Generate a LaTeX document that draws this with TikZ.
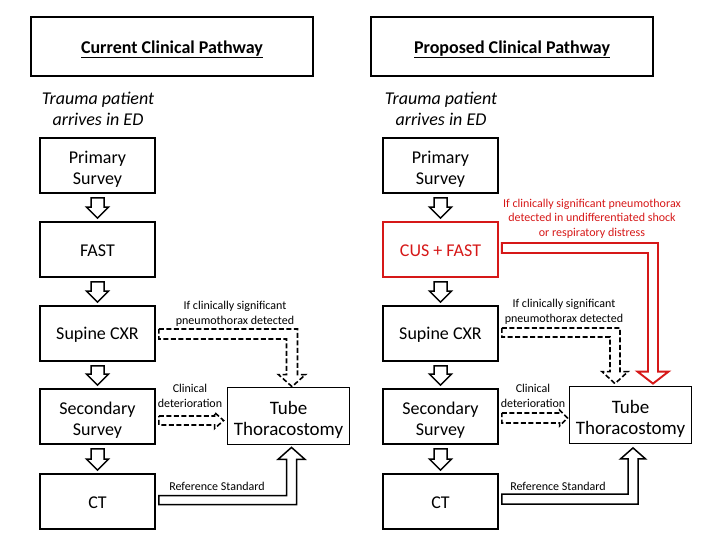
\documentclass[tikz,border=0pt]{standalone}
\usepackage{fontspec}
\setmainfont{Carlito}
\usetikzlibrary{calc}
\definecolor{cred}{RGB}{214,24,24}
\begin{document}
\begin{tikzpicture}[x=1pt,y=-1pt,
  box/.style={draw, line width=1.8pt, minimum width=115pt, minimum height=55pt, inner sep=0pt},
  boxtxt/.style={align=center, inner sep=0pt, font=\fontsize{18}{21}\selectfont},
  titlebox/.style={draw, line width=1.8pt, minimum width=282pt, minimum height=59pt, inner sep=0pt},
  titletxt/.style={inner sep=0pt, font=\fontsize{18}{21}\selectfont\bfseries},
  tubebox/.style={box, minimum width=122pt, minimum height=57pt},
  tubetxt/.style={boxtxt, font=\fontsize{19}{21}\selectfont},
  ital/.style={align=center, inner sep=0pt, font=\fontsize{18}{20.5}\selectfont\itshape},
  lbl/.style={align=center, inner sep=0pt, font=\fontsize{12}{15}\selectfont},
  redlbl/.style={lbl, text=cred, font=\fontsize{12}{14.5}\selectfont},
  blk/.style={draw, line width=1.5pt, fill=white, line join=miter},
  dsh/.style={blk, line width=1.6pt, dash pattern=on 5pt off 2.5pt},
  redarrow/.style={blk, draw=cred, line width=1.9pt}]
\useasboundingbox (0,0) rectangle (720,540);

% box node + its text node, text shifted down by #4
\newcommand{\bx}[6]{%
  \node[#1,#6] (#2) at (#3) {};
  \node[#4,#6,draw=none] (#2t) at ($(#2)+(0,#5)$) {\strut#2x};}
\newcommand{\bxx}[6]{%
  \node[#1,#6] (#2) at (#3) {};
  \node[#4,#6,draw=none] (#2t) at ($(#2)+(0,#5)$) {#2x};}

% ---------- Left column ----------
\node[titlebox] (t1) at (172,46.5) {};
\node[titletxt] (t1t) at (172,49.5) {\underline{Current Clinical Pathway}};
\node[ital] (a1) at (98,109) {Trauma patient\\arrives in ED};
\node[box] (p1) at (97.5,165.5) {};
\node[boxtxt] (p1t) at (97.5,169.5) {Primary\\Survey};
\node[box] (f1) at (97.5,249.5) {};
\node[boxtxt] (f1t) at (97.5,251) {FAST};
\node[box] (c1) at (97.5,333.5) {};
\node[boxtxt] (c1t) at (97.5,335) {Supine CXR};
\node[box] (s1) at (97.5,416.5) {};
\node[boxtxt] (s1t) at (97.5,420.5) {Secondary\\Survey};
\node[box] (ct1) at (97.5,501.5) {};
\node[boxtxt] (ct1t) at (97.5,503) {CT};
\node[tubebox] (tb1) at (288.5,416) {};
\node[tubetxt] (tb1t) at (288.5,420) {Tube\\Thoracostomy};

% ---------- Right column ----------
\node[titlebox] (t2) at (512,46.5) {};
\node[titletxt] (t2t) at (512,49.5) {\underline{Proposed Clinical Pathway}};
\node[ital] (a2) at (441,109) {Trauma patient\\arrives in ED};
\node[box] (p2) at (440.5,165.5) {};
\node[boxtxt] (p2t) at (440.5,169.5) {Primary\\Survey};
\node[box, draw=cred] (f2) at (440.5,249.5) {};
\node[boxtxt, text=cred] (f2t) at (440.5,251) {CUS + FAST};
\node[box] (c2) at (440.5,333.5) {};
\node[boxtxt] (c2t) at (440.5,335) {Supine CXR};
\node[box] (s2) at (440.5,416.5) {};
\node[boxtxt] (s2t) at (440.5,420.5) {Secondary\\Survey};
\node[box] (ct2) at (440.5,501.5) {};
\node[boxtxt] (ct2t) at (440.5,503) {CT};
\node[tubebox] (tb2) at (630.5,415) {};
\node[tubetxt] (tb2t) at (630.5,419) {Tube\\Thoracostomy};

% ---------- down block arrows ----------
\newcommand{\dnarrow}[2]{%
  \draw[blk] let \p1=(#1.south), \p2=(#2.north) in
    (\x1-6.5pt,\y1-4pt) -- (\x1+6.5pt,\y1-4pt) -- (\x1+6.5pt,\y2+14pt) -- (\x1+11pt,\y2+14pt)
    -- (\x1,\y2+3pt) -- (\x1-11pt,\y2+14pt) -- (\x1-6.5pt,\y2+14pt) -- cycle;}
\dnarrow{p1}{f1}
\dnarrow{f1}{c1}
\dnarrow{c1}{s1}
\dnarrow{s1}{ct1}
\dnarrow{p2}{f2}
\dnarrow{f2}{c2}
\dnarrow{c2}{s2}
\dnarrow{s2}{ct2}

% ---------- left connectors ----------
\draw[dsh] let \p1=(c1.east), \p2=(tb1.north) in
  (\x1+3pt,\y1+4.5pt) -- (\x2+9pt,\y1+4.5pt) -- (\x2+9pt,\y2+12pt) -- (\x2+17pt,\y2+12pt)
  -- (\x2+3.5pt,\y2) -- (\x2-10pt,\y2+12pt) -- (\x2-2pt,\y2+12pt) -- (\x2-2pt,\y1-5.5pt)
  -- (\x1+3pt,\y1-5.5pt) -- cycle;
\node[lbl] (l1) at (235,313.5) {If clinically significant\\pneumothorax detected};

\draw[dsh] let \p1=(s1.east), \p2=(tb1.west) in
  (\x1+3pt,\y1+0.5pt) -- (\x2-12pt,\y1+0.5pt) -- (\x2-12pt,\y1+4pt) -- (\x2-3pt,\y1-4pt)
  -- (\x2-12pt,\y1-12pt) -- (\x2-12pt,\y1-8.5pt) -- (\x1+3pt,\y1-8.5pt) -- cycle;
\node[lbl] (l2) at (190,396) {Clinical\\deterioration};

\draw[blk] let \p1=(ct1.east), \p2=(tb1.south) in
  (\x1+3pt,\y1-3pt) -- (\x2+8pt,\y1-3pt) -- (\x2+8pt,\y2-14pt) -- (\x2+16.5pt,\y2-14pt)
  -- (\x2+3pt,\y2-2pt) -- (\x2-10.5pt,\y2-14pt) -- (\x2-2pt,\y2-14pt) -- (\x2-2pt,\y1+6pt)
  -- (\x1+3pt,\y1+6pt) -- cycle;
\node[lbl] (l3) at (217,486) {Reference Standard};

% ---------- right connectors ----------
\draw[redarrow] let \p1=(f2.east), \p2=(tb2.north) in
  (\x1+3pt,\y1+6.5pt) -- (\x2+27.5pt,\y1+6.5pt) -- (\x2+27.5pt,\y2+14pt) -- (\x2+38pt,\y2+14pt)
  -- (\x2+22.5pt,\y2+2pt) -- (\x2+7pt,\y2+14pt) -- (\x2+17.5pt,\y2+14pt) -- (\x2+17.5pt,\y1-3.5pt)
  -- (\x1+3pt,\y1-3.5pt) -- cycle;
\node[redlbl] (l4) at (592,218.5) {If clinically significant pneumothorax\\detected in undifferentiated shock\\or respiratory distress};

\draw[dsh] let \p1=(c2.east), \p2=(tb2.north) in
  (\x1+3pt,\y1+5.5pt) -- (\x2-10.5pt,\y1+5.5pt) -- (\x2-10.5pt,\y2+14pt) -- (\x2-2.5pt,\y2+14pt)
  -- (\x2-15.5pt,\y2+2pt) -- (\x2-28.5pt,\y2+14pt) -- (\x2-20.5pt,\y2+14pt) -- (\x2-20.5pt,\y1-3.5pt)
  -- (\x1+3pt,\y1-3.5pt) -- cycle;
\node[lbl] (l5) at (564,311.5) {If clinically significant\\pneumothorax detected};

\draw[dsh] let \p1=(s2.east), \p2=(tb2.west) in
  (\x1+3pt,\y1+3.5pt) -- (\x2-9pt,\y1+3.5pt) -- (\x2-9pt,\y1+6.5pt) -- (\x2-1pt,\y1-1.5pt)
  -- (\x2-9pt,\y1-9.5pt) -- (\x2-9pt,\y1-6.5pt) -- (\x1+3pt,\y1-6.5pt) -- cycle;
\node[lbl] (l6) at (533,396) {Clinical\\deterioration};

\draw[blk] let \p1=(ct2.east), \p2=(tb2.south) in
  (\x1+3pt,\y1-2.5pt) -- (\x2+7.5pt,\y1-2.5pt) -- (\x2+7.5pt,\y2-14.5pt) -- (\x2+15pt,\y2-14.5pt)
  -- (\x2+2.5pt,\y2-3.5pt) -- (\x2-10pt,\y2-14.5pt) -- (\x2-2.5pt,\y2-14.5pt) -- (\x2-2.5pt,\y1+7.5pt)
  -- (\x1+3pt,\y1+7.5pt) -- cycle;
\node[lbl] (l7) at (558,486) {Reference Standard};
\end{tikzpicture}
\end{document}
